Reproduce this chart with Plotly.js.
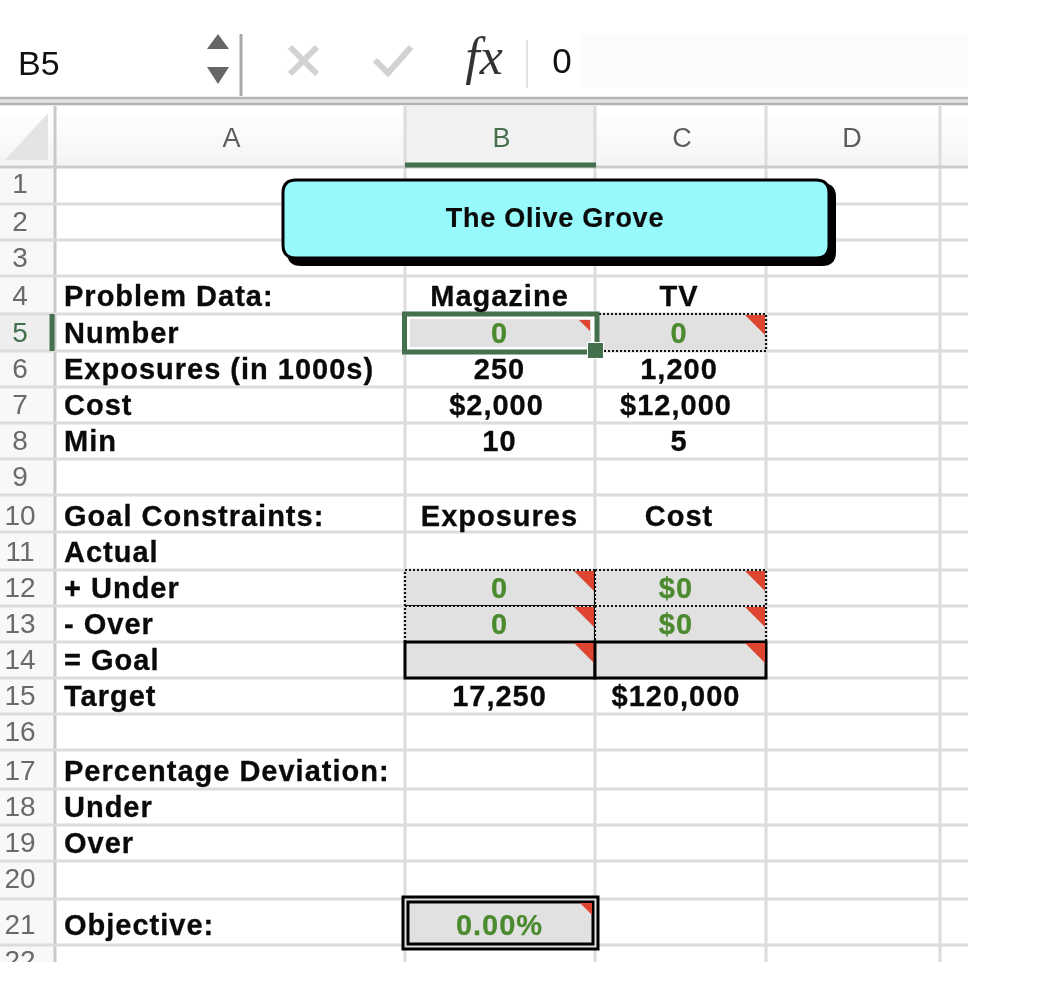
<!DOCTYPE html>
<html><head><meta charset="utf-8">
<script src="https://cdn.plot.ly/plotly-3.0.1.min.js"></script>
<style>
html,body{margin:0;padding:0;background:#fff}
#chart{filter:blur(0.35px)}
.scatterlayer .trace:nth-child(1) text,.scatterlayer .trace:nth-child(2) text,.scatterlayer .trace:nth-child(3) text{letter-spacing:1px;stroke:#0a0a0a;stroke-width:.3px}
.scatterlayer .trace:nth-child(4) text{letter-spacing:1px;stroke:#4b8a2e;stroke-width:.25px}
.scatterlayer .trace:nth-child(10) text{letter-spacing:.75px;stroke:#0a0a0a;stroke-width:.2px}
</style></head><body><div id="chart" style="width:1046px;height:986px"></div>
<script>
// ---- content ----
const rowNumbers = ["1","2","3","4","5","6","7","8","9","10","11","12","13","14","15","16","17","18","19","20","21","22"];
const columnHeads = ["A","B","C","D"];
const labelsA = {4:"Problem Data:",5:"Number",6:"Exposures (in 1000s)",7:"Cost",8:"Min",10:"Goal Constraints:",11:"Actual",12:"+ Under",13:"- Over",14:"= Goal",15:"Target",17:"Percentage Deviation:",18:"Under",19:"Over",21:"Objective:"};
const valuesB = {4:"Magazine",6:"250",7:"$2,000",8:"10",10:"Exposures",15:"17,250"};
const valuesC = {4:"TV",6:"1,200",7:"$12,000",8:"5",10:"Cost",15:"$120,000"};
const computedB = {5:"0",12:"0",13:"0",21:"0.00%"};
const computedC = {5:"0",12:"$0",13:"$0"};
const titleText = "The Olive Grove";
const nameBox = "B5", formulaText = "0", fxText = "fx";

// ---- sheet geometry (screen pixels) ----
const colEdges = [55,405,595,766,940];
const rowEdges = [167,204,240,276,314,351,387,423,459,495,532,570,606,642,678,714,750,789,825,861,899,945,981];
const rowTextY = [184,222,258,296,333,369,405,441,477,516,552,588,624,660,696,732,771,807,843,879,925,961];
const gridRight = 968, gridBottom = 962;
const BOLD = "Liberation Sans", GREEN = "#4b8a2e", SEL = "#44704e", CELL = "#e1e1e1", RED = "#dd4530", GRID = "#dcdcdc";

const shapes = [];
const rect = (x0,y0,x1,y1,fill,lc,lw,dash,layer) => shapes.push({type:"rect",x0,y0,x1,y1,fillcolor:fill||"rgba(0,0,0,0)",line:{color:lc||"rgba(0,0,0,0)",width:lw||0,dash:dash||"solid"},layer:layer||"below"});
const line = (x0,y0,x1,y1,c,w,layer) => shapes.push({type:"line",x0,y0,x1,y1,line:{color:c,width:w},layer:layer||"below"});
const path = (d,fill,lc,lw,layer) => shapes.push({type:"path",path:d,fillcolor:fill||"rgba(0,0,0,0)",line:{color:lc||"rgba(0,0,0,0)",width:lw||0},layer:layer||"below"});

// formula bar
rect(580,34,968,88,"#fcfcfc");
path("M 207 49 L 218 34 L 229 49 Z","#666666");
path("M 207 67 L 229 67 L 218 84 Z","#666666");
line(241,34,241,96,"#a9a9a9",3);
line(290,47,317,74,"#d2d2d2",6); line(317,47,290,74,"#d2d2d2",6);
path("M 375 60 L 388 73 L 411 47","", "#d2d2d2",6);
line(527,40,527,88,"#e2e2e2",2);
rect(0,98,968,104,"#e4e4e4");
line(0,98,968,98,"#b4b4b4",2.5); line(0,104,968,104,"#b4b4b4",2.5);

// header band (soft vertical fade)
for(let i=0;i<6;i++){const y=106+i*10,g=255-i*2;rect(0,y,968,y+10,`rgb(${g},${g},${g})`);}
rect(405,106,595,164,"#f1f1f1");
rect(0,167,55,gridBottom,"#f8f8f8");
rect(0,rowEdges[4],52,rowEdges[5],"#eeeeee");
path("M 5 160 L 48 113 L 48 160 Z","#e4e4e4");

// grid
colEdges.forEach((x,i)=>line(x,106,x,gridBottom,i===0?"#c9c9c9":GRID,3));
rowEdges.slice(0,-1).forEach((y,i)=>line(0,y,gridRight,y,i===0?"#cdcdcd":GRID,3));
line(405,165,596,165,SEL,5);
line(52,rowEdges[4],52,rowEdges[5],SEL,5);

// decision / constraint cells
function tri(xr,yt,s){path(`M ${xr-s} ${yt} L ${xr} ${yt} L ${xr} ${yt+s} Z`,RED);}
[[595,766,5],[405,595,12],[595,766,12],[405,595,13],[595,766,13]].forEach(([a,b,r])=>{
  rect(a,rowEdges[r-1],b,rowEdges[r],CELL,"#111",2.2,"2px,2px");
  tri(b-1,rowEdges[r-1]+1,20);
});
[[405,595],[595,766]].forEach(([a,b])=>{
  rect(a,rowEdges[13],b,rowEdges[14],CELL,"#000",3);
  tri(b-1,rowEdges[13]+1,20);
});
// selected cell
rect(404.5,314,597,352,"#ffffff",SEL,5);
rect(410,319,591,347,CELL);
tri(590,320,11);
rect(587,342,604,359,"#ffffff");
rect(588,343,603,358,SEL);
// objective
rect(403,897,598,949,CELL,"#000",3);
rect(408,902,593,944,CELL,"#000",3);
tri(592,903,12);
// title box
const rr=(a,b,c,d,r)=>`M ${a+r} ${b} L ${c-r} ${b} Q ${c} ${b} ${c} ${b+r} L ${c} ${d-r} Q ${c} ${d} ${c-r} ${d} L ${a+r} ${d} Q ${a} ${d} ${a} ${d-r} L ${a} ${b+r} Q ${a} ${b} ${a+r} ${b} Z`;
path(rr(288,184,835,265,13),"#000","#000",2);
path(rr(283,180,829,258,13),"#97f9fc","#000",3);
// clip everything below the sheet
rect(0,gridBottom,1046,986,"#ffffff",null,0,null,"above");

// ---- text traces ----
const textY = r => rowTextY[r-1] + 2.2;
const boldY = r => textY(r) + 1;
const colCenter = c => (colEdges[c]+colEdges[c+1])/2;
const dollarShift = t => t.startsWith("$") ? -3 : 0;
const T = (xs,ys,txt,size,color,pos,fam) => ({type:"scatter",mode:"text",x:xs,y:ys,text:txt,textposition:pos||"middle center",hoverinfo:"skip",showlegend:false,cliponaxis:false,marker:{size:1},textfont:{family:fam||BOLD,size,color}});
const rowsOf = o => Object.keys(o).map(Number);
const bold = s => s.map(t=>`<b>${t}</b>`);
const xsOf = (o,c) => Object.values(o).map(t=>colCenter(c)+(c===1?-0.5:-1.5)+dollarShift(t));
const traces = [
  T(rowsOf(labelsA).map(()=>64),rowsOf(labelsA).map(boldY),bold(Object.values(labelsA)),29,"#0a0a0a","middle right"),
  T(xsOf(valuesB,1),rowsOf(valuesB).map(boldY),bold(Object.values(valuesB)),29,"#0a0a0a"),
  T(xsOf(valuesC,2),rowsOf(valuesC).map(boldY),bold(Object.values(valuesC)),29,"#0a0a0a"),
  T(xsOf(computedB,1).concat(xsOf(computedC,2)),
    rowsOf(computedB).map(boldY).concat(rowsOf(computedC).map(boldY)),
    bold(Object.values(computedB).concat(Object.values(computedC))),29,GREEN),
  T(rowNumbers.map(()=>20),rowNumbers.map((_,i)=>textY(i+1)),rowNumbers,28,rowNumbers.map(n=>n==="5"?"#44704e":"#6a6a6a")),
  T(columnHeads.map((_,i)=>colCenter(i)+(i===3?-1:1.5)),columnHeads.map(()=>140.5),columnHeads,27,columnHeads.map(h=>h==="B"?"#44704e":"#5c5c5c")),
  T([18],[66],[nameBox],34,"#111111","middle right"),
  T([562],[64],[formulaText],35,"#111111"),
  T([484],[61],[`<i>${fxText}</i>`],52,"#333333","middle center","Liberation Serif"),
  T([555],[220],[`<b>${titleText}</b>`],27,"#0a0a0a")
];

Plotly.newPlot("chart",traces,{
  width:1046,height:986,margin:{l:0,r:0,t:0,b:0},paper_bgcolor:"#fff",plot_bgcolor:"#fff",showlegend:false,
  xaxis:{range:[0,1046],visible:false,fixedrange:true},
  yaxis:{range:[986,0],visible:false,fixedrange:true},
  shapes
},{displayModeBar:false,staticPlot:true});
</script></body></html>
